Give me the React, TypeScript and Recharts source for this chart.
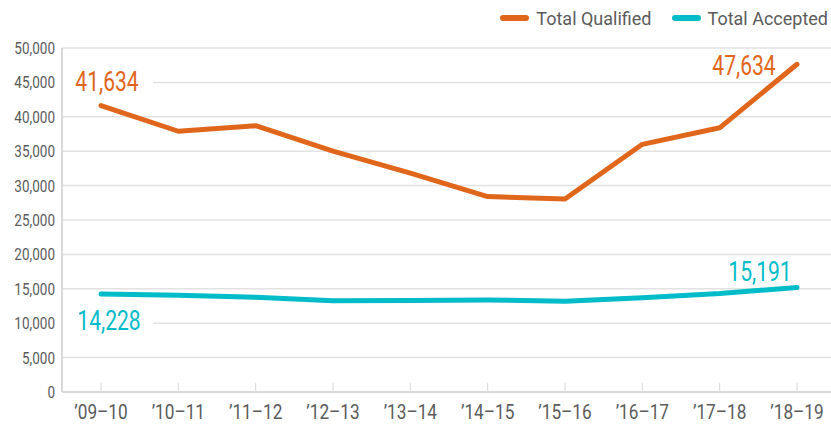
import { LineChart, Line, XAxis, YAxis, CartesianGrid, LabelList } from "recharts";

const years = ["’09–10", "’10–11", "’11–12", "’12–13", "’13–14", "’14–15", "’15–16", "’16–17", "’17–18", "’18–19"];
const qualified = [41634, 37900, 38700, 35000, 31800, 28400, 28050, 36000, 38400, 47634];
const accepted = [14228, 14050, 13760, 13270, 13300, 13370, 13200, 13700, 14300, 15191];
const yTicks = [0, 5000, 10000, 15000, 20000, 25000, 30000, 35000, 40000, 45000, 50000];

const ORANGE = "#E0661C";
const TEAL = "#00BCC8";
const GRAY = "#5b5b5b";
const FONT = "Roboto, 'Liberation Sans', sans-serif";

const data = years.map((year, i) => ({ year, qualified: qualified[i], accepted: accepted[i] }));

const fmt = (v: number) => v.toLocaleString("en-US");

// narrow text: the original uses a condensed face, so squeeze Roboto horizontally
function Narrow({ x, y, anchor, size, color, squeeze, children }: any) {
  return (
    <g transform={`translate(${x},${y}) scale(${squeeze},1)`}>
      <text x={0} y={0} textAnchor={anchor} fill={color} fontSize={size} fontFamily={FONT}>
        {children}
      </text>
    </g>
  );
}

function XTick({ x, y, payload }: any) {
  return (
    <g>
      <line x1={x} x2={x} y1={y - 9} y2={y} stroke="#d9d9d9" strokeWidth={1} />
      <Narrow x={x} y={y + 27} anchor="middle" size={21} color={GRAY} squeeze={0.82}>
        {payload.value}
      </Narrow>
    </g>
  );
}

function YTick({ x, y, payload }: any) {
  return (
    <Narrow x={x} y={y + 6} anchor="end" size={16.5} color={GRAY} squeeze={0.82}>
      {fmt(payload.value)}
    </Narrow>
  );
}

function QualifiedLabel({ x, y, value, index }: any) {
  if (index === 0) {
    return (
      <g>
        <rect x={x - 38} y={y - 42} width={90} height={34} fill="#fff" />
        <Narrow x={x + 6} y={y - 15} anchor="middle" size={27} color={ORANGE} squeeze={0.78}>
          {fmt(value)}
        </Narrow>
      </g>
    );
  }
  if (index === years.length - 1) {
    return (
      <Narrow x={x - 53} y={y + 11} anchor="middle" size={27} color={ORANGE} squeeze={0.78}>
        {fmt(value)}
      </Narrow>
    );
  }
  return null;
}

function AcceptedLabel({ x, y, value, index }: any) {
  if (index === 0) {
    return (
      <g>
        <rect x={x - 38} y={y + 12} width={90} height={30} fill="#fff" />
        <Narrow x={x + 8} y={y + 36} anchor="middle" size={27} color={TEAL} squeeze={0.78}>
          {fmt(value)}
        </Narrow>
      </g>
    );
  }
  if (index === years.length - 1) {
    return (
      <Narrow x={x - 37} y={y - 6} anchor="middle" size={27} color={TEAL} squeeze={0.78}>
        {fmt(value)}
      </Narrow>
    );
  }
  return null;
}

function LegendItem({ color, label }: { color: string; label: string }) {
  return (
    <div style={{ display: "flex", alignItems: "center", marginLeft: 20 }}>
      <div style={{ width: 29, height: 6, borderRadius: 3, background: color, marginRight: 7 }} />
      <span style={{ fontSize: 18, color: GRAY, fontFamily: FONT }}>{label}</span>
    </div>
  );
}

export default function App() {
  return (
    <div style={{ position: "absolute", left: 0, top: 0, width: 831, height: 424, background: "#fff" }}>
      <div style={{ position: "absolute", top: 6, right: 3, display: "flex", height: 24, alignItems: "center" }}>
        <LegendItem color={ORANGE} label="Total Qualified" />
        <LegendItem color={TEAL} label="Total Accepted" />
      </div>
      <LineChart width={831} height={424} data={data} margin={{ top: 48, right: 0, bottom: 0, left: 0 }}>
        <CartesianGrid vertical={false} stroke="#e2e2e2" strokeWidth={1.5} />
        <XAxis
          dataKey="year"
          height={32}
          padding={{ left: 39, right: 34 }}
          axisLine={{ stroke: "#d9d9d9", strokeWidth: 2 }}
          tickLine={false}
          tickSize={0}
          tickMargin={0}
          interval={0}
          tick={<XTick />}
        />
        <YAxis
          width={62}
          domain={[0, 50000]}
          ticks={yTicks}
          interval={0}
          axisLine={{ stroke: "#d9d9d9", strokeWidth: 2 }}
          tickLine={false}
          tickSize={0}
          tickMargin={7}
          tick={<YTick />}
        />
        <Line
          dataKey="qualified"
          stroke={ORANGE}
          strokeWidth={5}
          dot={false}
          strokeLinejoin="round"
          strokeLinecap="round"
          isAnimationActive={false}
        >
          <LabelList dataKey="qualified" content={<QualifiedLabel />} />
        </Line>
        <Line
          dataKey="accepted"
          stroke={TEAL}
          strokeWidth={5}
          dot={false}
          strokeLinejoin="round"
          strokeLinecap="round"
          isAnimationActive={false}
        >
          <LabelList dataKey="accepted" content={<AcceptedLabel />} />
        </Line>
      </LineChart>
    </div>
  );
}
